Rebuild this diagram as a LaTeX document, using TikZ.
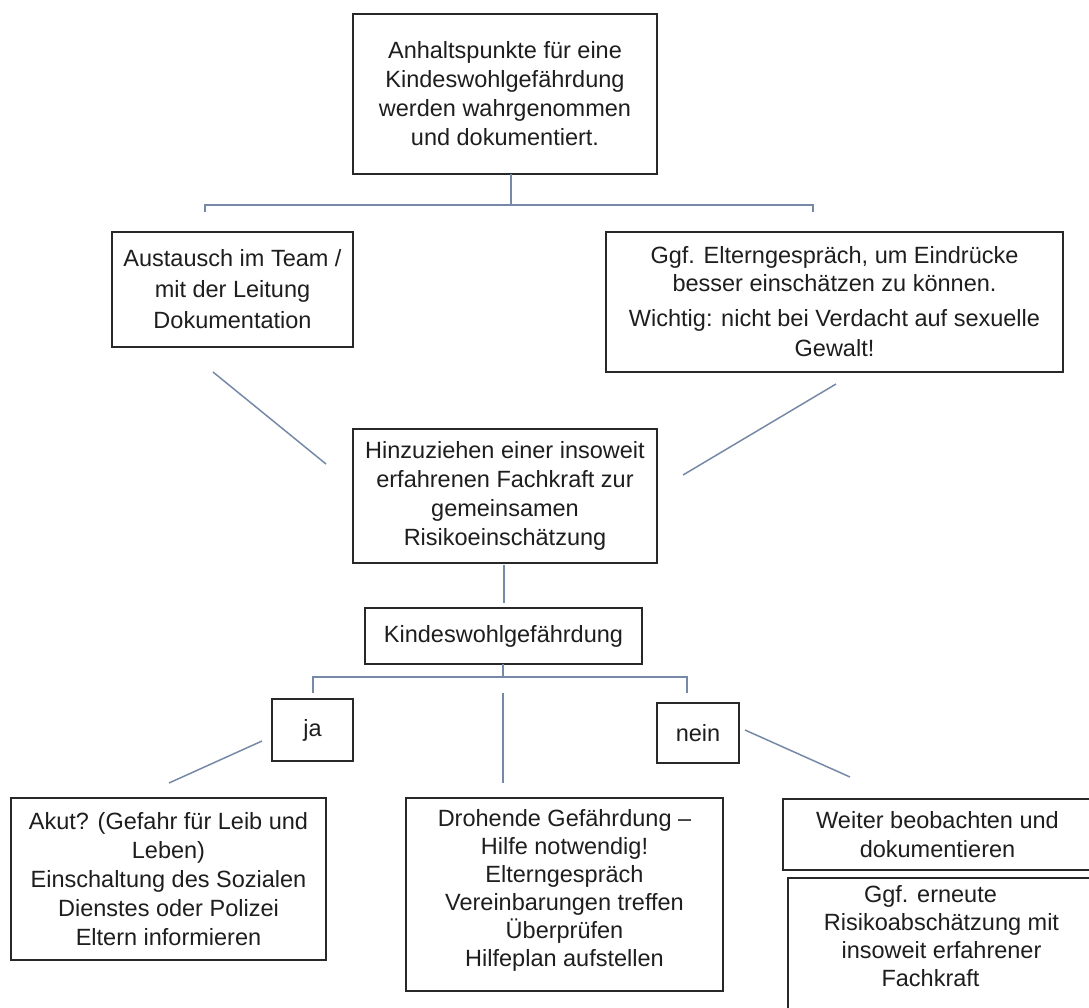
\documentclass[tikz,border=0pt]{standalone}
\usepackage{fontspec}
\setmainfont{Liberation Sans}
\definecolor{linecol}{RGB}{118,138,168}
\definecolor{boxgray}{RGB}{40,40,40}
\definecolor{textgray}{RGB}{30,30,30}
\begin{document}
\begin{tikzpicture}[x=1pt,y=-1pt,
  box/.style={draw=boxgray, line width=1.6pt, inner sep=0pt, align=center,
    font=\fontsize{23.5}{29}\selectfont, text=textgray},
  conn/.style={draw=linecol, line width=1.5pt}]
\useasboundingbox (0,0) rectangle (1089,1007);
\clip (0,0) rectangle (1089,1007);
\fill[white] (0,0) rectangle (1089,1007);

% boxes
\node[box, minimum width=304, minimum height=160] (top) at (505,94)
  {Anhaltspunkte für eine\\Kindeswohlgefährdung\\werden wahrgenommen\\und dokumentiert.};
\node[box, minimum width=241, minimum height=115] (aus) at (232.5,289.5)
  {Austausch im Team /\\[2pt]mit der Leitung\\[2pt]Dokumentation};
\node[box, minimum width=457, minimum height=140] (ggf) at (834.5,302)
  {Ggf. Elterngespräch, um Eindrücke\\[-1pt]besser einschätzen zu können.\\[6pt]Wichtig: nicht bei Verdacht auf sexuelle\\[1pt]Gewalt!};
\node[box, minimum width=304, minimum height=134] (hin) at (505,496)
  {Hinzuziehen einer insoweit\\erfahrenen Fachkraft zur\\gemeinsamen\\Risikoeinschätzung};
\node[box, minimum width=277, minimum height=56] (kwg) at (503.5,636)
  {Kindeswohlgefährdung};
\node[box, minimum width=81, minimum height=62] (ja) at (312.5,730) {ja};
\node[box, minimum width=82, minimum height=60] (nein) at (698,733) {nein};
\node[box, minimum width=315, minimum height=162] (akut) at (168.5,879)
  {Akut? (Gefahr für Leib und\\Leben)\\Einschaltung des Sozialen\\Dienstes oder Polizei\\Eltern informieren};
\node[box, minimum width=317, minimum height=193] (dro) at (564.5,894.5)
  {Drohende Gefährdung –\\[-1pt]Hilfe notwendig!\\[-1pt]Elterngespräch\\[-1pt]Vereinbarungen treffen\\[-1pt]Überprüfen\\[-1pt]Hilfeplan aufstellen\rule[-14pt]{0pt}{0pt}};
\node[box, minimum width=309, minimum height=71] (wei) at (937.5,834.5)
  {Weiter beobachten und\\dokumentieren};
\node[box, minimum width=307, minimum height=137] (ggf2) at (941.5,946.5)
  {Ggf. erneute\hspace*{22pt}\\[-1pt]Risikoabschätzung mit\hspace*{22pt}\\[-1pt]insoweit erfahrener\hspace*{22pt}\\[-1pt]Fachkraft\hspace*{22pt}\rule[-21pt]{0pt}{0pt}};

% connector points
\coordinate (t1) at (511,174);
\coordinate (t2) at (511,205);
\coordinate (b1a) at (205,212);
\coordinate (b1b) at (205,205);
\coordinate (b1c) at (813,205);
\coordinate (b1d) at (813,212);
\coordinate (d1a) at (213,372);
\coordinate (d1b) at (326,464);
\coordinate (d2a) at (836,384);
\coordinate (d2b) at (683,475);
\coordinate (h1) at (504,565);
\coordinate (h2) at (504,603);
\coordinate (k1) at (503,664);
\coordinate (k2) at (503,677);
\coordinate (b2a) at (313,693);
\coordinate (b2b) at (313,677);
\coordinate (b2c) at (687,677);
\coordinate (b2d) at (687,693);
\coordinate (m1) at (503,693);
\coordinate (m2) at (503,783);
\coordinate (j1) at (262,741);
\coordinate (j2) at (169,783);
\coordinate (n1) at (745,730);
\coordinate (n2) at (850,777);

% connectors
\draw[conn] (t1) -- (t2);
\draw[conn] (b1a) -- (b1b) -- (b1c) -- (b1d);
\draw[conn] (d1a) -- (d1b);
\draw[conn] (d2a) -- (d2b);
\draw[conn] (h1) -- (h2);
\draw[conn] (k1) -- (k2);
\draw[conn] (b2a) -- (b2b) -- (b2c) -- (b2d);
\draw[conn] (m1) -- (m2);
\draw[conn] (j1) -- (j2);
\draw[conn] (n1) -- (n2);
\end{tikzpicture}
\end{document}
